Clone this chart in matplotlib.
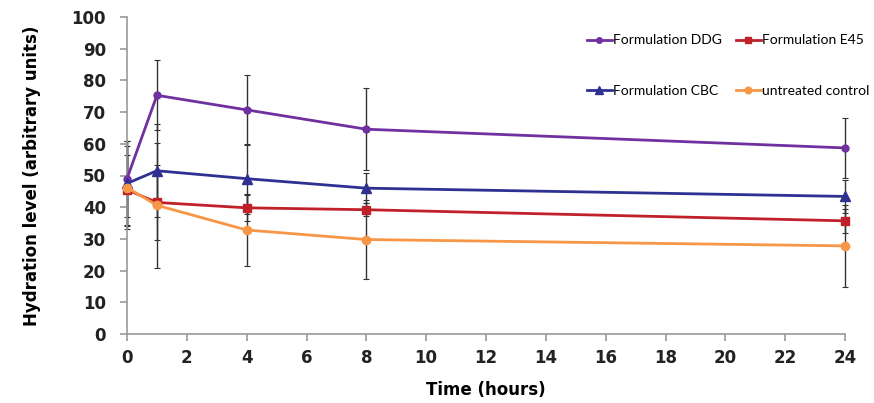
import matplotlib.pyplot as plt
import numpy as np

hours = [0, 1, 4, 8, 24]

series = ["Formulation DDG", "Formulation CBC", "Formulation E45", "untreated control"]
ddg = [49.0, 75.3, 70.7, 64.6, 58.7]
cbc = [47.5, 51.5, 49.0, 46.0, 43.4]
e45 = [45.5, 41.5, 39.8, 39.2, 35.7]
control = [46.2, 40.6, 32.8, 29.8, 27.8]

ddg_err = [12.0, 11.1, 11.0, 13.0, 9.5]
cbc_err = [13.5, 14.6, 11.0, 4.8, 5.2]
e45_err = [11.0, 11.8, 4.0, 2.1, 3.8]
control_err = [13.0, 19.8, 11.5, 12.4, 13.0]

colors = ["#7030A0", "#2E3192", "#C0202A", "#F79646"]
markers = ["o", "^", "s", "o"]
msizes = [5, 7, 6, 6]

fig = plt.figure(figsize=(8.74, 4.03), dpi=100)
ax = fig.add_axes([127 / 874, 1 - 334 / 403, (845 - 127) / 874, (334 - 17) / 403])

data = [ddg, cbc, e45, control]
errs = [ddg_err, cbc_err, e45_err, control_err]
handles = []
for name, ys, es, c, m, ms in zip(series, data, errs, colors, markers, msizes):
    ax.errorbar(hours, ys, yerr=es, fmt="none", ecolor="#333333", elinewidth=1,
                capsize=2, capthick=0.8, zorder=2, clip_on=False)
    h, = ax.plot(hours, ys, color=c, marker=m, markersize=ms, linewidth=2,
                 label=name, zorder=3, clip_on=False)
    handles.append(h)

ax.set_xlim(0, 24)
ax.set_ylim(0, 100)
ax.set_xticks(np.arange(0, 25, 2))
ax.set_yticks(np.arange(0, 101, 10))
for s in ["top", "right"]:
    ax.spines[s].set_visible(False)
for s in ["left", "bottom"]:
    ax.spines[s].set_color("#999999")
    ax.spines[s].set_linewidth(1.2)
ax.tick_params(axis="both", direction="out", length=5, color="#999999", width=1.2,
               labelsize=12, labelcolor="#222222")
ax.tick_params(axis="y", pad=10)
ax.tick_params(axis="x", pad=6)
for lab in ax.get_xticklabels() + ax.get_yticklabels():
    lab.set_fontweight("bold")
ax.set_xlabel("Time (hours)", fontsize=12, fontweight="bold", labelpad=10)
ax.set_ylabel("Hydration level (arbitrary units)", fontsize=12, fontweight="bold", labelpad=22)

leg = fig.legend(handles, series, ncol=2, loc="upper left",
                 bbox_to_anchor=(574 / 874, 1 - 22 / 403), frameon=False,
                 prop={"family": "Lato", "size": 10}, handlelength=1.8,
                 handletextpad=0.1, labelspacing=2.75, columnspacing=1.0,
                 markerscale=0.8)

fig.savefig("out.png", dpi=100)
